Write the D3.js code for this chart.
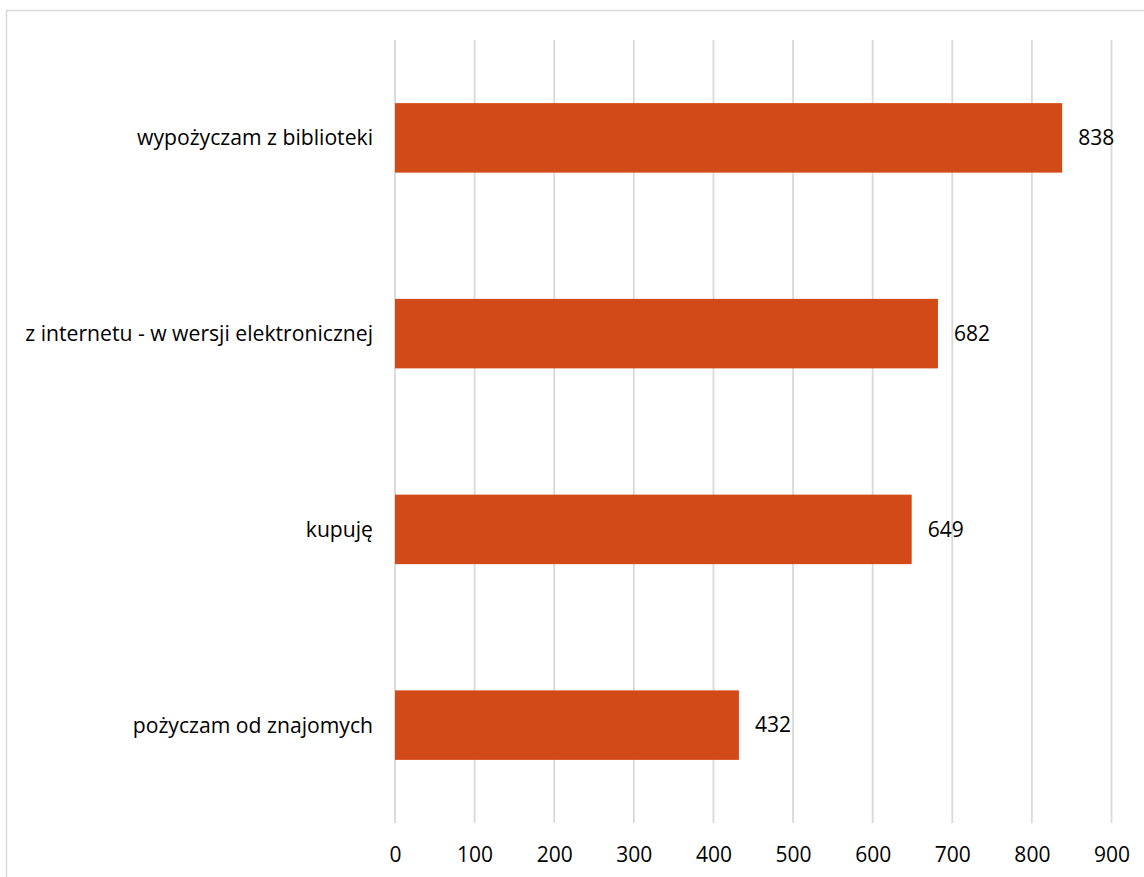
<!DOCTYPE html>
<html>
<head>
<meta charset="utf-8">
<script src="https://cdn.jsdelivr.net/npm/d3@7"></script>
<style>
  html, body { margin: 0; padding: 0; background: #fff; }
  svg { display: block; }
</style>
</head>
<body>
<svg id="chart" width="1144" height="877"></svg>
<script>
const categories = ["wypożyczam z biblioteki", "z internetu - w wersji elektronicznej", "kupuję", "pożyczam od znajomych"];
const values = [838, 682, 649, 432];
const tickValues = [0, 100, 200, 300, 400, 500, 600, 700, 800, 900];

const FONT = "'Open Sans', 'Liberation Sans', sans-serif";
const svg = d3.select("#chart");

// chart frame
svg.append("rect")
  .attr("x", 6.5).attr("y", 10.5)
  .attr("width", 1150).attr("height", 880)
  .attr("fill", "#fff").attr("stroke", "#d9d9d9").attr("stroke-width", 1.5);

const plot = { left: 395, right: 1111.5, top: 40, bottom: 823 };

const x = d3.scaleLinear().domain([0, 900]).range([plot.left, plot.right]);
const y = d3.scaleBand().domain(categories).range([plot.top, plot.bottom]).paddingInner(0.645).paddingOuter(0.3225);

// gridlines
svg.append("g").selectAll("line").data(tickValues).join("line")
  .attr("x1", d => x(d)).attr("x2", d => x(d))
  .attr("y1", plot.top).attr("y2", plot.bottom)
  .attr("stroke", "#d9d9d9").attr("stroke-width", 1.8);

// bars
svg.append("g").selectAll("rect").data(values).join("rect")
  .attr("x", x(0))
  .attr("y", (d, i) => y(categories[i]))
  .attr("width", d => x(d) - x(0))
  .attr("height", y.bandwidth())
  .attr("fill", "#d24a18");

// x-axis tick labels via d3 axis
const xAxis = d3.axisBottom(x).tickValues(tickValues).tickSize(0).tickPadding(0).tickFormat(d3.format("d"));
const gx = svg.append("g").attr("transform", `translate(0,${plot.bottom})`).call(xAxis);
gx.select(".domain").remove();
gx.selectAll("text")
  .attr("dy", null).attr("y", 39)
  .attr("font-family", FONT).attr("font-size", 21).attr("fill", "#000");

// category labels via d3 axis
const yAxis = d3.axisLeft(y).tickSize(0).tickPadding(22);
const gy = svg.append("g").attr("transform", `translate(${plot.left},0)`).call(yAxis);
gy.select(".domain").remove();
const catText = gy.selectAll("text")
  .attr("font-family", FONT).attr("font-size", 20).attr("fill", "#000")
  .attr("dy", "0.35em");

// fit category font size so the longest label spans ~348px
let maxW = 0;
catText.each(function () { maxW = Math.max(maxW, this.getComputedTextLength()); });
const catSize = 20 * 348 / maxW;
catText.attr("font-size", catSize);

// value labels
svg.append("g").selectAll("text").data(values).join("text")
  .attr("x", d => x(d) + 16)
  .attr("y", (d, i) => y(categories[i]) + y.bandwidth() / 2)
  .attr("dy", "0.35em")
  .attr("font-family", FONT).attr("font-size", 21).attr("fill", "#000")
  .text(d => d);
</script>
</body>
</html>
